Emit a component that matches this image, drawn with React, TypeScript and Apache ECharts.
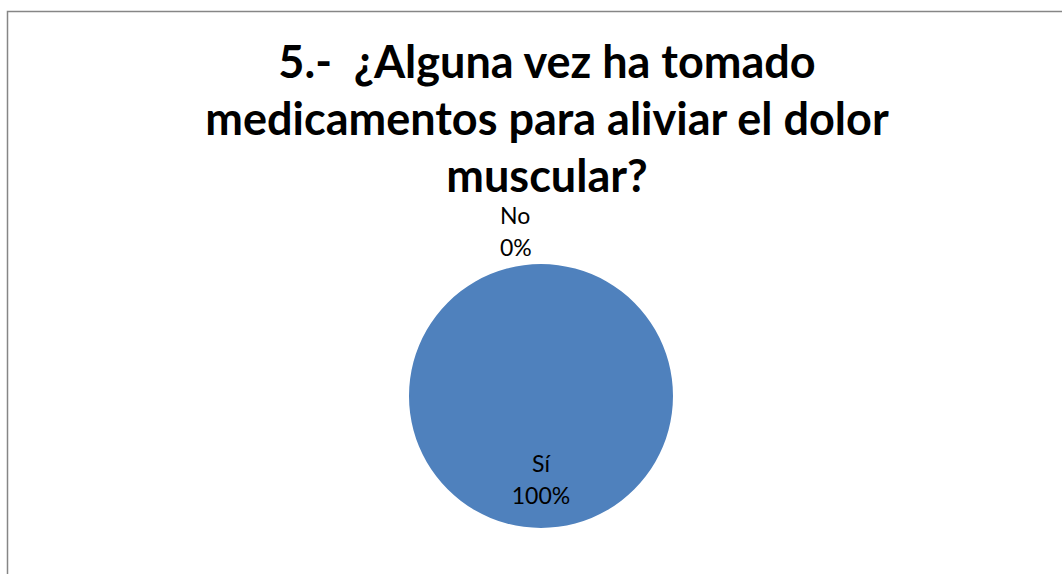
import React, { useEffect, useRef } from "react";
import * as echarts from "echarts";

const titleLines = ["5.-  ¿Alguna vez ha tomado", "medicamentos para aliviar el dolor", "muscular?"];
const categories = ["Sí", "No"];
const values = [100, 0];
const colors = ["#4F81BD", "#C0504D"];

export default function App() {
  const ref = useRef<HTMLDivElement>(null);
  useEffect(() => {
    if (!ref.current) return;
    const chart = echarts.init(ref.current, null, { renderer: "svg" });
    const total = values.reduce((a, b) => a + b, 0);
    chart.setOption({
      animation: false,
      backgroundColor: "#ffffff",
      title: {
        text: titleLines.join("\n"),
        left: 542,
        top: 27,
        textAlign: "center",
        textStyle: {
          fontFamily: "Lato",
          fontWeight: "bold",
          fontSize: 45,
          lineHeight: 57,
          color: "#000000",
        },
      },
      graphic: [
        {
          type: "rect",
          shape: { x: 7.5, y: 11.5, width: 1200, height: 800 },
          style: { fill: "none", stroke: "#868686", lineWidth: 1.5 },
          silent: true,
          z: 10,
        },
      ],
      series: [
        {
          type: "pie",
          center: [541, 396],
          radius: 132,
          startAngle: 90,
          clockwise: true,
          avoidLabelOverlap: false,
          itemStyle: { borderWidth: 0 },
          label: {
            fontFamily: "Lato",
            fontSize: 23,
            lineHeight: 32,
            color: "#000000",
            formatter: (p: any) => `${p.name}\n${Math.round((p.value / total) * 100)}%`,
          },
          labelLine: { show: false, length: 0, length2: 0 },
          labelLayout: (p: any) => {
            if (p.dataIndex === 0) return { dy: 14 };
            return { dx: -46, dy: -33 };
          },
          data: categories.map((c, i) => ({
            name: c,
            value: values[i],
            itemStyle: { color: colors[i] },
            label: { position: i === 0 ? "inside" : "outside" },
          })),
        },
      ],
    });
    return () => chart.dispose();
  }, []);
  return (
    <div
      ref={ref}
      style={{ position: "fixed", left: 0, top: 0, width: 1062, height: 574 }}
    />
  );
}
